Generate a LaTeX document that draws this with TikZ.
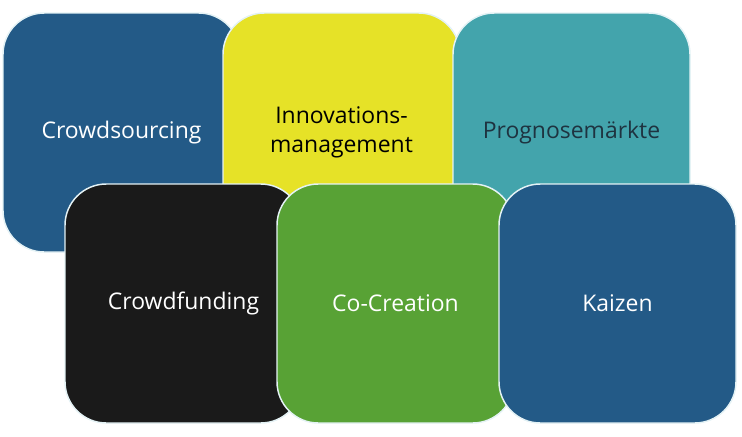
\documentclass[tikz,border=0pt]{standalone}
\usepackage{fontspec}
\setmainfont{Open Sans}
\usetikzlibrary{positioning}

\definecolor{tileblue}{HTML}{235A87}
\definecolor{tileyellow}{HTML}{E6E227}
\definecolor{tileteal}{HTML}{43A4AC}
\definecolor{tileblack}{HTML}{1A1A1A}
\definecolor{tilegreen}{HTML}{58A235}
\definecolor{tileedge}{HTML}{E4F2F5}
\definecolor{tealtext}{HTML}{1E3340}

\begin{document}
\begin{tikzpicture}[x=0.75pt,y=-0.75pt,
    tile/.style={draw=tileedge, line width=1.1pt, rounded corners=31pt,
        minimum width=177.75pt, minimum height=179.25pt, inner sep=0pt,
        outer sep=0pt, align=center, text=white,
        font=\fontsize{17.2}{22}\selectfont}]
\useasboundingbox (0,0) rectangle (742,436);

% top row
\node[tile, fill=tileblue] (crowdsrc) at (121.5,132.5) {Crowdsourcing};
\node[tile, fill=tileyellow, text=black] (innov) [right=-12.75pt of crowdsrc] {Innovations-\\management};
\node[tile, fill=tileteal, text=tealtext] (prognose) [right=-5.25pt of innov] {Prognosemärkte};

% bottom row
\node[tile, fill=tileblack] (crowdfund) at (183.5,303.5) {Crowdfunding};
\node[tile, fill=tilegreen] (cocreate) [right=-18.75pt of crowdfund] {Co-Creation};
\node[tile, fill=tileblue] (kaizen) [right=-11.25pt of cocreate] {Kaizen};

\end{tikzpicture}
\end{document}
